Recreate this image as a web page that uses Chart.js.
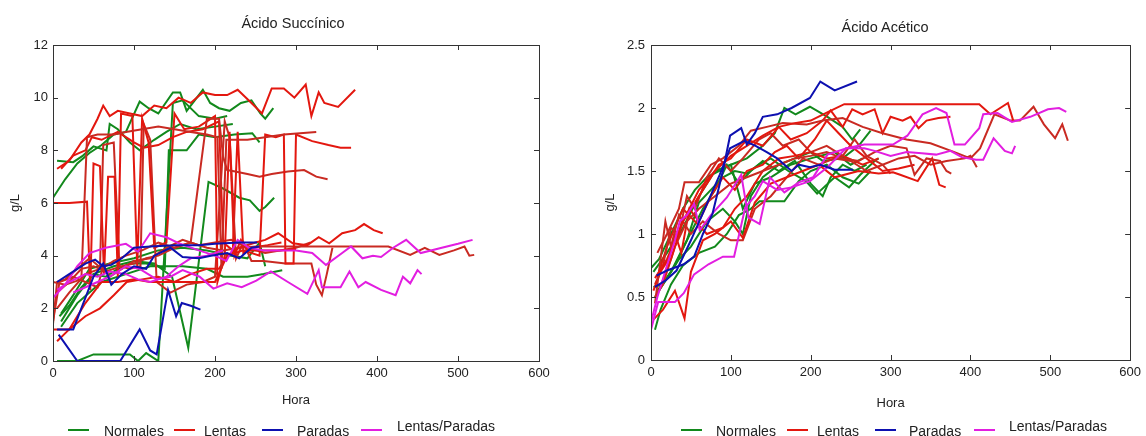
<!DOCTYPE html>
<html>
<head>
<meta charset="utf-8">
<script src="https://cdn.jsdelivr.net/npm/chart.js@4.4.0/dist/chart.umd.min.js"></script>
<style>
  body { margin: 0; width: 1146px; height: 436px; overflow: hidden; background: #fff;
         font-family: "Liberation Sans", Arial, sans-serif; color: #222; }
  .pane { position: absolute; top: 0; width: 573px; height: 436px; }
  .pane canvas { position: absolute; left: 0; top: 0; }
  .title { position: absolute; font-size: 14.5px; white-space: nowrap; transform: translate(-50%, -50%); }
  .leg { position: absolute; font-size: 14px; line-height: 16px; white-space: nowrap; }
  .sw { position: absolute; height: 2px; width: 21px; }
</style>
</head>
<body>
<div class="pane" style="left:0"><canvas id="succ" width="573" height="436"></canvas></div>
<div class="pane" style="left:573px"><canvas id="acet" width="573" height="436"></canvas></div>
<div id="labels"></div>
<script>
// ---- data: [hora, g/L] pairs ----
const legendLabels = ['Normales', 'Lentas', 'Paradas', 'Lentas/Paradas'];
const xTicks = [0, 100, 200, 300, 400, 500, 600];

// Ácido Succínico
const sucNorm1 = [[5,7.6],[25,7.55],[37,7.8],[50,8.15],[66,8.0],[70,9.0],[80,8.8],[95,8.3],[107,8.0],[125,8.4],[140,8.7],[157,9.0],[177,8.8],[200,8.9],[222,9.0]];
const sucNorm2 = [[0,6.2],[15,6.9],[30,7.5],[45,7.9],[60,8.2],[75,8.6],[90,8.7],[107,9.85],[118,9.6],[130,9.4],[148,10.2],[157,10.2],[165,9.5],[185,10.3],[194,9.8],[205,9.6],[218,9.5],[232,9.8],[245,9.9],[256,9.4],[262,9.2],[272,9.6]];
const sucNorm3 = [[8,1.7],[20,2.1],[35,2.8],[50,3.3],[65,3.2],[80,3.5],[95,3.7],[115,3.7],[130,3.6],[138,3.5],[143,8.0],[156,8.0],[165,8.0],[180,8.6],[200,8.5],[224,8.6],[246,8.65],[255,8.3]];
const sucNorm4 = [[10,1.5],[30,2.5],[50,3.3],[75,3.6],[100,3.8],[125,3.7],[147,3.2],[167,0.5],[192,6.8],[210,6.55],[230,6.2],[243,6.1],[255,5.7],[262,5.85],[273,6.2]];
const sucNorm5 = [[5,0],[30,0],[50,0.25],[75,0.25],[95,0.25],[105,0],[115,0.3],[130,0],[148,9.8],[160,9.9],[180,9.3],[200,9.2],[215,9.3]];
const sucNorm6 = [[10,1.3],[30,2.2],[60,3.0],[90,3.3],[120,3.6],[160,3.6],[190,3.5],[210,3.2],[240,3.2],[260,3.3],[283,3.45]];
const sucNorm7 = [[10,1.8],[25,2.5],[45,3.5],[70,3.7],[100,3.9],[130,4.2],[160,4.3],[190,4.2],[220,4.0],[240,3.9],[255,4.5],[262,3.6]];

const sucLent1 = [[5,7.3],[20,7.6],[35,8.3],[45,8.6],[55,9.2],[62,9.7],[70,9.3],[80,9.5],[95,9.4],[110,9.3],[125,9.7],[140,9.6],[155,10.0],[170,9.8],[185,10.2],[200,10.1],[215,10.1],[228,10.3],[245,9.8],[258,9.4],[270,10.35],[285,10.35],[298,10.0],[312,10.5],[319,9.3],[328,10.2],[335,9.8],[352,9.65],[373,10.3]];
const sucLent2 = [[0,3.0],[15,2.9],[35,3.1],[42,8.5],[55,8.6],[75,8.6],[90,8.7],[110,8.8],[130,8.9],[150,8.8],[170,8.7],[190,8.6],[203,8.5],[208,3.5],[214,8.4],[240,8.4],[262,8.5],[285,8.6],[305,8.65],[325,8.7]];
const sucLent3 = [[0,1.2],[20,1.2],[40,2.2],[60,3.0],[80,3.0],[100,3.1],[120,3.0],[140,3.0],[160,3.0],[180,3.0],[200,3.0],[215,4.0],[235,4.2],[255,4.0],[262,8.6],[275,8.5],[285,8.6],[287,3.7],[297,3.7],[300,8.6],[320,8.35],[340,8.2],[355,8.1],[368,8.1]];
const sucLent4 = [[5,2.6],[20,3.0],[35,3.5],[50,3.6],[65,3.4],[85,3.6],[100,3.7],[115,3.9],[130,4.0],[150,4.3],[170,4.5],[190,9.2],[205,9.2],[210,7.75],[215,7.25],[225,7.2],[240,7.1],[255,7.0],[270,7.1],[290,7.2],[310,7.25],[325,7.0],[339,6.9]];
const sucLent5 = [[5,0.75],[20,1.2],[40,1.7],[58,2.0],[75,2.5],[91,3.0],[110,3.1],[130,3.2],[150,3.0],[170,3.3],[190,3.5],[205,3.5],[215,4.0],[230,4.3],[250,4.5],[262,4.6],[278,4.85],[296,4.47],[314,4.4],[328,4.7],[341,4.47],[357,4.85],[373,4.97],[384,5.2],[396,4.97],[407,4.85]];
const sucLent6 = [[0,1.4],[5,3.0],[15,3.1],[30,3.5],[45,3.9],[60,3.5],[75,3.8],[90,4.0],[110,4.2],[130,4.5],[150,4.3],[170,4.5],[190,4.3],[210,4.2],[230,4.3],[251,4.35],[300,4.35],[364,4.35],[414,4.35],[441,4.03],[459,4.3],[477,4.03],[495,4.2],[508,4.35],[514,4.0],[520,4.03]];
const sucLent7 = [[0,6.0],[20,6.0],[42,6.05],[46,2.7],[50,7.5],[58,7.4],[63,3.3],[68,7.0],[76,7.0],[80,3.2],[84,9.4],[98,9.3],[104,3.6],[110,9.2],[118,8.3],[125,4.3],[140,4.5],[150,9.4],[162,8.8],[180,8.9],[200,9.3],[203,3.0],[212,4.0],[218,8.7],[224,4.0],[232,4.6],[240,4.2],[260,4.2],[280,4.2],[300,4.25]];
const sucLent8 = [[5,2.0],[20,2.6],[40,3.3],[58,3.5],[62,8.2],[75,8.3],[82,3.6],[95,3.5],[108,3.6],[112,9.0],[120,8.4],[128,3.0],[145,2.6],[165,2.9],[185,3.0],[200,3.2],[212,9.1],[218,8.5],[226,3.9],[235,4.5],[245,3.8],[260,3.8],[287,3.7],[319,3.7],[325,2.9],[332,2.5],[338,3.3],[345,4.3]];
const sucLent9 = [[10,7.3],[25,7.8],[40,8.0],[48,8.5],[60,8.4],[80,8.7],[100,8.3],[112,8.1],[130,8.2],[148,8.5],[165,8.7],[185,8.8],[205,9.1],[210,4.5],[222,4.2],[228,8.7],[235,4.1],[245,4.3],[265,4.4],[282,4.5]];
const sucLent10 = [[0,1.5],[8,3.0],[25,3.2],[40,3.0],[55,2.8],[62,3.6],[70,3.2],[85,3.5],[100,3.8],[120,3.9],[140,4.3],[160,4.6],[180,4.4],[200,4.5],[220,4.6],[240,4.3],[262,4.1],[280,4.2],[300,4.3],[318,4.5]];

const sucPar1 = [[5,3.0],[20,3.3],[40,3.7],[52,3.85],[62,3.6],[72,3.65],[85,3.9],[100,4.3],[120,4.35],[150,4.4],[180,4.4],[200,4.45],[230,4.5],[252,4.5]];
const sucPar2 = [[5,1.2],[25,1.2],[35,2.0],[50,3.2],[62,3.7],[72,2.9],[85,3.3],[100,3.6],[115,3.5],[125,4.0],[145,4.3],[160,3.95],[180,3.9],[195,4.0],[215,4.1],[230,3.9],[245,4.3],[255,4.35]];
const sucPar3 = [[7,1.0],[30,0],[60,0],[83,0],[107,1.2],[120,0.4],[128,0.25],[142,2.7],[152,1.7],[159,2.2],[170,2.1],[182,1.95]];

const sucLP1 = [[0,2.4],[15,2.9],[30,3.6],[45,4.1],[65,4.3],[90,4.45],[105,4.15],[120,4.85],[140,4.7],[157,4.45],[180,4.2],[200,4.0],[214,3.8],[228,4.6],[242,4.3],[260,4.2],[300,4.2],[320,4.1],[337,3.65],[357,4.1],[368,4.35],[382,3.9],[395,4.0],[405,3.95],[420,4.3],[436,4.6],[454,4.1],[480,4.3],[500,4.45],[518,4.6]];
const sucLP2 = [[25,2.6],[40,2.8],[55,3.0],[70,3.2],[90,3.6],[107,3.5],[128,3.1],[145,3.2],[160,3.45],[181,3.2],[198,2.75],[215,2.95],[233,2.8],[251,3.05],[269,3.4],[290,3.0],[314,2.55],[328,3.45],[332,2.8],[355,2.8],[366,3.4],[377,2.8],[386,3.0],[405,2.7],[423,2.5],[432,3.2],[441,2.95],[450,3.45],[455,3.3]];
const sucLP3 = [[5,2.7],[20,3.0],[40,3.3],[55,3.2],[70,3.4],[90,3.3],[105,3.1],[120,3.0],[140,3.2],[155,3.6],[170,3.9],[190,4.0],[210,4.2]];

// Ácido Acético
const aceNorm1 = [[0,0.73],[10,0.8],[25,1.0],[40,1.2],[55,1.35],[70,1.45],[85,1.5],[100,1.55],[120,1.6],[140,1.7],[155,1.8],[167,2.0],[181,1.95],[199,2.01],[221,1.93],[240,1.85],[252,1.75],[262,1.83]];
const aceNorm2 = [[3,0.58],[15,0.6],[30,0.75],[45,0.95],[60,1.25],[75,1.35],[90,1.45],[105,1.5],[120,1.48],[135,1.55],[150,1.6],[172,1.5],[194,1.42],[208,1.32],[230,1.45],[248,1.37],[262,1.47],[280,1.58],[285,1.6]];
const aceNorm3 = [[5,0.24],[12,0.4],[25,0.6],[40,0.75],[60,0.85],[80,0.9],[95,1.0],[110,1.15],[125,1.2],[136,1.26],[167,1.26],[185,1.42],[200,1.5],[220,1.55],[240,1.45],[260,1.4],[275,1.5]];
const aceNorm4 = [[5,0.5],[20,0.65],[35,0.8],[50,0.9],[70,1.1],[90,1.2],[105,1.1],[115,1.0],[125,1.3],[140,1.45],[160,1.55],[180,1.6],[200,1.65],[215,1.58],[240,1.6],[260,1.7],[275,1.82]];
const aceNorm5 = [[8,0.55],[25,0.7],[45,0.95],[65,1.2],[80,1.35],[95,1.55],[110,1.4],[125,1.5],[140,1.58],[160,1.5],[180,1.58],[200,1.4],[215,1.3],[225,1.45],[240,1.55],[255,1.5],[270,1.55]];
const aceNorm6 = [[3,0.7],[20,0.85],[40,1.05],[60,1.3],[80,1.5],[100,1.55],[115,1.2],[130,1.4],[150,1.45],[175,1.55],[200,1.6],[230,1.65],[250,1.55],[265,1.6]];

const aceLent1 = [[5,0.65],[20,0.8],[40,1.1],[60,1.35],[80,1.5],[100,1.62],[120,1.7],[140,1.78],[160,1.85],[180,1.88],[200,1.9],[222,1.97],[242,2.03],[300,2.03],[360,2.03],[411,2.03],[425,1.95],[447,2.04],[454,1.89]];
const aceLent2 = [[8,0.85],[20,1.0],[35,1.2],[42,1.41],[60,1.41],[75,1.55],[90,1.6],[110,1.7],[125,1.82],[145,1.85],[165,1.88],[195,1.87],[215,1.9],[240,1.92],[265,1.85],[290,1.8],[320,1.75],[350,1.72],[380,1.65],[400,1.6],[412,1.68],[430,1.95],[450,1.9],[462,1.9],[479,2.01],[492,1.87],[506,1.76],[515,1.87],[522,1.74]];
const aceLent3 = [[10,0.55],[25,0.8],[40,1.1],[55,1.25],[70,1.4],[85,1.55],[100,1.6],[120,1.75],[140,1.7],[160,1.85],[175,1.75],[195,1.8],[215,1.9],[225,1.98],[240,1.85],[252,1.99],[265,1.95],[280,1.99],[290,1.8],[300,1.93],[315,1.9],[325,1.93],[335,1.84],[345,1.9],[360,1.92],[375,1.93]];
const aceLent4 = [[5,0.5],[15,0.6],[30,0.9],[45,1.1],[60,1.2],[80,1.3],[100,1.4],[120,1.45],[140,1.5],[160,1.55],[180,1.6],[200,1.62],[220,1.65],[240,1.6],[260,1.58],[280,1.65],[300,1.7],[320,1.68],[330,1.47],[345,1.6],[362,1.58],[370,1.5],[376,1.48]];
const aceLent5 = [[3,0.32],[15,0.4],[30,0.55],[42,0.33],[50,0.7],[65,0.95],[80,1.0],[100,1.1],[115,0.97],[130,1.25],[150,1.4],[170,1.45],[190,1.5],[210,1.55],[230,1.45],[260,1.5],[285,1.48],[303,1.49],[312,1.47],[334,1.42],[352,1.6],[361,1.39],[369,1.37]];
const aceLent6 = [[5,0.45],[18,1.1],[25,0.9],[35,1.15],[50,1.0],[65,1.1],[85,1.0],[100,0.95],[115,0.95],[130,1.2],[150,1.3],[170,1.45],[190,1.6],[210,1.55],[230,1.6],[250,1.58],[270,1.5],[290,1.55],[310,1.6],[330,1.62],[350,1.55],[370,1.58],[393,1.6],[400,1.62],[408,1.53]];
const aceLent7 = [[3,0.55],[12,0.7],[22,0.8],[30,1.0],[38,0.85],[48,1.2],[60,1.1],[75,1.3],[90,1.45],[105,1.35],[120,1.5],[140,1.55],[155,1.65],[170,1.7],[185,1.6],[205,1.75],[220,1.9],[235,1.8],[250,1.7],[270,1.6],[290,1.5],[310,1.52],[330,1.55]];
const aceLent8 = [[5,0.6],[15,0.75],[25,1.05],[35,1.0],[45,1.3],[55,1.2],[70,1.45],[85,1.6],[100,1.5],[115,1.6],[135,1.75],[150,1.8],[165,1.7],[185,1.75],[200,1.65],[220,1.7],[240,1.62],[255,1.75],[270,1.62],[290,1.55],[300,1.48]];
const aceLent9 = [[10,0.7],[20,0.9],[30,1.05],[40,1.2],[55,1.1],[70,1.0],[90,1.05],[105,1.2],[120,1.3],[140,1.5],[160,1.6],[180,1.62],[200,1.65],[220,1.6],[240,1.62],[265,1.55],[285,1.6]];

const acePar1 = [[7,0.67],[20,0.71],[41,0.76],[54,0.82],[65,1.0],[77,1.16],[90,1.5],[99,1.78],[113,1.84],[120,1.71],[130,1.8],[140,1.93],[158,1.95],[176,2.0],[199,2.08],[212,2.21],[230,2.14],[258,2.21]];
const acePar2 = [[5,0.58],[18,0.63],[32,0.71],[50,0.95],[68,1.21],[86,1.47],[99,1.68],[117,1.74],[131,1.7],[145,1.65],[158,1.6],[176,1.5],[185,1.55],[199,1.53],[212,1.55],[230,1.51],[253,1.51]];

const aceLP1 = [[0,0.3],[8,0.5],[20,0.75],[30,0.95],[36,1.1],[45,1.15],[54,1.24],[61,1.03],[75,1.15],[95,1.29],[113,1.47],[122,1.13],[136,1.08],[149,1.45],[167,1.33],[185,1.41],[203,1.45],[221,1.63],[245,1.68],[267,1.71],[285,1.71],[303,1.71],[321,1.78],[340,1.95],[357,2.0],[370,1.96],[380,1.71],[393,1.71],[411,1.84],[416,1.95],[434,1.96],[452,1.89],[475,1.93],[497,1.99],[511,2.0],[520,1.97]];
const aceLP2 = [[0,0.24],[9,0.46],[30,0.46],[41,0.53],[54,0.68],[72,0.76],[90,0.82],[104,0.82],[118,1.21],[130,1.3],[140,1.42],[158,1.35],[176,1.37],[199,1.42],[221,1.53],[244,1.68],[267,1.68],[280,1.66],[300,1.62],[320,1.65],[339,1.64],[357,1.63],[375,1.66],[389,1.61],[407,1.59],[416,1.59],[429,1.76],[443,1.66],[452,1.64],[456,1.7]];

// ---- styling ----
const colGreen = '#12891c';
const colReds = ['#e3170f', '#c92a22'];
const colBlue = '#0d10b0';
const colMagenta = '#e21ee0';
const legendColors = [colGreen, colReds[0], colBlue, colMagenta];

Chart.defaults.font.family = '"Liberation Sans", Arial, sans-serif';
Chart.defaults.color = '#222';

function lineSet(points, color, order) {
  return {
    data: points.map(p => ({x: p[0], y: p[1]})),
    borderColor: color,
    borderWidth: 2,
    pointRadius: 0,
    tension: 0,
    fill: false,
    order: order
  };
}

function buildSets(normales, lentas, paradas, lentasParadas) {
  return [
    ...normales.map(s => lineSet(s, colGreen, 4)),
    ...lentas.map((s, i) => lineSet(s, colReds[i % 2], 3)),
    ...lentasParadas.map(s => lineSet(s, colMagenta, 2)),
    ...paradas.map(s => lineSet(s, colBlue, 1))
  ];
}

// box around the plot with MATLAB-like inner ticks
const boxPlugin = {
  id: 'box',
  afterDraw(chart) {
    const {ctx, chartArea: a, scales: {x, y}} = chart;
    ctx.save();
    ctx.strokeStyle = '#333';
    ctx.lineWidth = 1;
    ctx.strokeRect(Math.round(a.left) + 0.5, Math.round(a.top) + 0.5,
                   Math.round(a.width), Math.round(a.height));
    ctx.beginPath();
    x.ticks.forEach(t => {
      const px = Math.round(x.getPixelForValue(t.value)) + 0.5;
      ctx.moveTo(px, a.bottom); ctx.lineTo(px, a.bottom - 5);
      ctx.moveTo(px, a.top); ctx.lineTo(px, a.top + 5);
    });
    y.ticks.forEach(t => {
      const py = Math.round(y.getPixelForValue(t.value)) + 0.5;
      ctx.moveTo(a.left, py); ctx.lineTo(a.left + 5, py);
      ctx.moveTo(a.right, py); ctx.lineTo(a.right - 5, py);
    });
    ctx.stroke();
    ctx.restore();
  }
};

function makeChart(id, datasets, opt) {
  return new Chart(document.getElementById(id), {
    type: 'line',
    data: { datasets: datasets },
    plugins: [boxPlugin],
    options: {
      responsive: false,
      animation: false,
      devicePixelRatio: 1,
      layout: { padding: { top: 45, right: opt.padRight, left: 0, bottom: 0 } },
      plugins: { legend: { display: false }, tooltip: { enabled: false }, title: { display: false } },
      scales: {
        x: {
          type: 'linear', min: 0, max: 600,
          afterBuildTicks: s => { s.ticks = xTicks.map(v => ({value: v})); },
          grid: { display: false, drawTicks: false },
          border: { display: false },
          ticks: { padding: 5, maxRotation: 0, font: { size: 13 }, callback: v => String(v) },
          title: { display: true, text: 'Hora', font: { size: 13 }, padding: { top: 0, bottom: opt.horaPad } },
          afterFit: s => { s.height = opt.xHeight; }
        },
        y: {
          type: 'linear', min: 0, max: opt.yMax,
          grid: { display: false, drawTicks: false },
          border: { display: false },
          ticks: { stepSize: opt.yStep, padding: opt.yPad, font: { size: 13 }, callback: v => String(v) },
          title: { display: true, text: 'g/L', font: { size: 13 }, padding: { top: opt.glPad, bottom: 0 } },
          afterFit: s => { s.width = opt.yWidth; }
        }
      }
    }
  });
}

makeChart('succ',
  buildSets([sucNorm1, sucNorm2, sucNorm3, sucNorm4, sucNorm5, sucNorm6, sucNorm7],
            [sucLent1, sucLent2, sucLent3, sucLent4, sucLent5, sucLent6, sucLent7, sucLent8, sucLent9, sucLent10],
            [sucPar1, sucPar2, sucPar3],
            [sucLP1, sucLP2, sucLP3]),
  { yMax: 12, yStep: 2, yWidth: 53, padRight: 34, xHeight: 75, horaPad: 28, yPad: 5, glPad: 8 });

makeChart('acet',
  buildSets([aceNorm1, aceNorm2, aceNorm3, aceNorm4, aceNorm5, aceNorm6],
            [aceLent1, aceLent2, aceLent3, aceLent4, aceLent5, aceLent6, aceLent7, aceLent8, aceLent9],
            [acePar1, acePar2],
            [aceLP1, aceLP2]),
  { yMax: 2.5, yStep: 0.5, yWidth: 78, padRight: 10, xHeight: 76, horaPad: 25, yPad: 6, glPad: 30 });

// titles and legends as page text
const labelBox = document.getElementById('labels');
function addText(cls, text, left, top, extra) {
  const el = document.createElement('div');
  el.className = cls;
  el.textContent = text;
  el.style.left = left + 'px';
  el.style.top = top + 'px';
  if (extra) Object.assign(el.style, extra);
  labelBox.appendChild(el);
}
addText('title', 'Ácido Succínico', 293, 23);
addText('title', 'Ácido Acético', 885, 27);

const legendLayouts = [
  { sw: [68, 174, 262, 361], txt: [104, 204, 297, 397] },
  { sw: [681, 787, 875, 974], txt: [716, 817, 909, 1009] }
];
legendLayouts.forEach(l => {
  legendLabels.forEach((name, i) => {
    const sw = document.createElement('div');
    sw.className = 'sw';
    sw.style.left = l.sw[i] + 'px';
    sw.style.top = '429px';
    sw.style.background = legendColors[i];
    labelBox.appendChild(sw);
    addText('leg', name, l.txt[i], i === 3 ? 418 : 423);
  });
});
</script>
</body>
</html>
